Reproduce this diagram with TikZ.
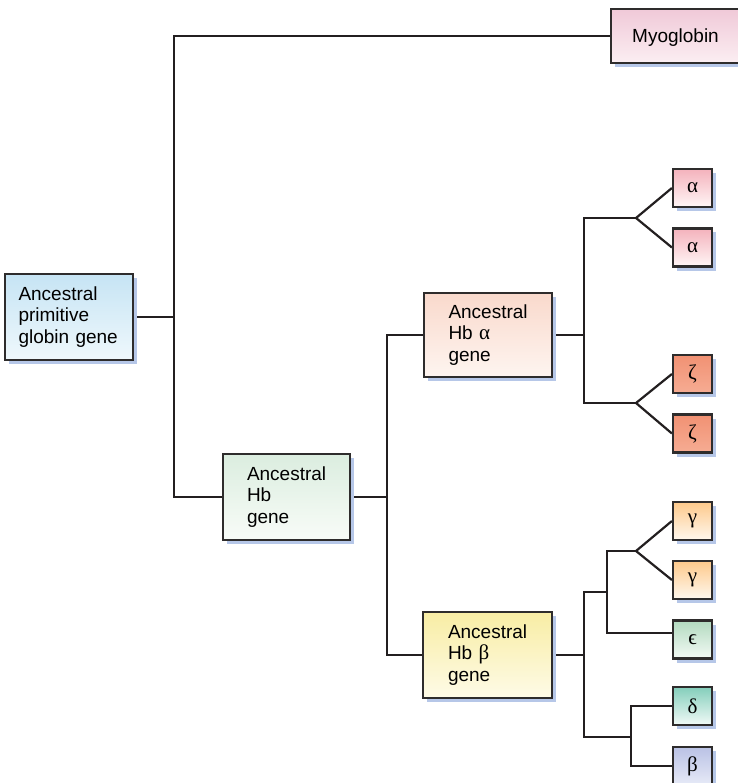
\documentclass[tikz,border=0pt]{standalone}
\usepackage{fontspec}
\setmainfont{Liberation Sans}
\newfontfamily\grk{Liberation Serif}
\usetikzlibrary{shadows,backgrounds}

\definecolor{boxline}{HTML}{2E2C2C}
\definecolor{linecol}{HTML}{231F20}
\definecolor{shadecol}{HTML}{B6C7E8}
\definecolor{primtop}{HTML}{C6E4F4}
\definecolor{primbot}{HTML}{EFF8FC}
\definecolor{myotop}{HTML}{F0C9D8}
\definecolor{myobot}{HTML}{FBEEF2}
\definecolor{hbtop}{HTML}{DBEDDF}
\definecolor{hbbot}{HTML}{F8FCF8}
\definecolor{hbatop}{HTML}{F9D9CC}
\definecolor{hbabot}{HTML}{FEF5F0}
\definecolor{hbbtop}{HTML}{F8EDA4}
\definecolor{hbbbot}{HTML}{FEFBE7}
\definecolor{alphatop}{HTML}{F4B2BC}
\definecolor{alphabot}{HTML}{FFF6F6}
\definecolor{zetatop}{HTML}{F19173}
\definecolor{zetabot}{HTML}{F6AC93}
\definecolor{gammatop}{HTML}{FDC98B}
\definecolor{gammabot}{HTML}{FFF8EE}
\definecolor{epstop}{HTML}{B2DABF}
\definecolor{epsbot}{HTML}{F3FAF5}
\definecolor{deltatop}{HTML}{84CEBB}
\definecolor{deltabot}{HTML}{F1FAF7}
\definecolor{betatop}{HTML}{BAC2E5}
\definecolor{betabot}{HTML}{E7EAF7}

\tikzset{
  box/.style={draw=boxline, line width=2.2pt, inner sep=0pt,
    drop shadow={shadow xshift=4pt, shadow yshift=-4pt, fill=shadecol, opacity=1}},
  grad/.style 2 args={top color=#1, bottom color=#2},
  genebox/.style={box, align=left, text width=79pt, minimum width=127pt,
    minimum height=86pt, font=\fontsize{19}{21.5}\selectfont},
  chainbox/.style={box, minimum width=39pt, minimum height=38pt,
    font=\grk\fontsize{21}{24}\selectfont},
  link/.style={line width=2.2pt, draw=linecol},
}

\begin{document}
\begin{tikzpicture}[x=1pt, y=-1pt]
  \useasboundingbox (0,0) rectangle (737,783);

  % ancestral genes
  \node[genebox, grad={primtop}{primbot}, text width=101pt, minimum width=128pt]
    (prim) at (69,317) {Ancestral\\primitive\\globin gene};
  \node[box, grad={myotop}{myobot}, minimum width=129pt, minimum height=54pt,
    text depth=0pt, font=\fontsize{19}{21.5}\selectfont] (myo) at (675.5,36) {Myoglobin};
  \node[genebox, grad={hbtop}{hbbot}] (hb) at (286.5,497) {Ancestral\\Hb\\gene};
  \node[genebox, grad={hbatop}{hbabot}, minimum width=128pt, minimum height=84pt]
    (hba) at (488,335) {Ancestral\\Hb {\grk\fontsize{21}{21.5}\selectfont α}\\gene};
  \node[genebox, grad={hbbtop}{hbbbot}, minimum width=129pt]
    (hbb) at (487.5,655) {Ancestral\\Hb {\grk\fontsize{21}{21.5}\selectfont β}\\gene};

  % present-day chains
  \node[chainbox, grad={alphatop}{alphabot}] (a1) at (692.5,188) {α};
  \node[chainbox, grad={alphatop}{alphabot}] (a2) at (692.5,247.5) {α};
  \node[chainbox, grad={zetatop}{zetabot}] (z1) at (692.5,374) {ζ};
  \node[chainbox, grad={zetatop}{zetabot}] (z2) at (692.5,433.5) {ζ};
  \node[chainbox, grad={gammatop}{gammabot}] (g1) at (692.5,521) {γ};
  \node[chainbox, grad={gammatop}{gammabot}] (g2) at (692.5,580) {γ};
  \node[chainbox, grad={epstop}{epsbot}] (e) at (692.5,639.5) {ϵ};
  \node[chainbox, grad={deltatop}{deltabot}] (d) at (692.5,706) {δ};
  \node[chainbox, grad={betatop}{betabot}] (b) at (692.5,766) {β};

  % branch points
  \coordinate (j0) at (174,317);
  \coordinate (j1) at (387,497);
  \coordinate (j2) at (584,335);
  \coordinate (fa) at (636,218);
  \coordinate (fz) at (636,403);
  \coordinate (j3) at (584,655);
  \coordinate (k1) at (607,592);
  \coordinate (k2) at (631,737);
  \coordinate (fg) at (636,551);
  \coordinate (fe) at (607,633);

  \begin{scope}[on background layer]
    \draw[link] (prim.east) -- (j0);
    \draw[link] (myo.west) -| (j0) |- (hb.west);
    \draw[link] (hb.east) -- (j1);
    \draw[link] (hba.west) -| (j1) |- (hbb.west);
    \draw[link] (hba.east) -- (j2);
    \draw[link] (fa) -| (j2) |- (fz);
    \draw[link] (a1.west) -- (fa) -- (a2.west);
    \draw[link] (z1.west) -- (fz) -- (z2.west);
    \draw[link] (hbb.east) -- (j3);
    \draw[link] (k1) -| (j3) |- (k2);
    \draw[link] (fg) -| (k1) |- (e.west |- fe);
    \draw[link] (g1.west) -- (fg) -- (g2.west);
    \draw[link] (d.west) -| (k2) |- (b.west);
  \end{scope}
\end{tikzpicture}
\end{document}
